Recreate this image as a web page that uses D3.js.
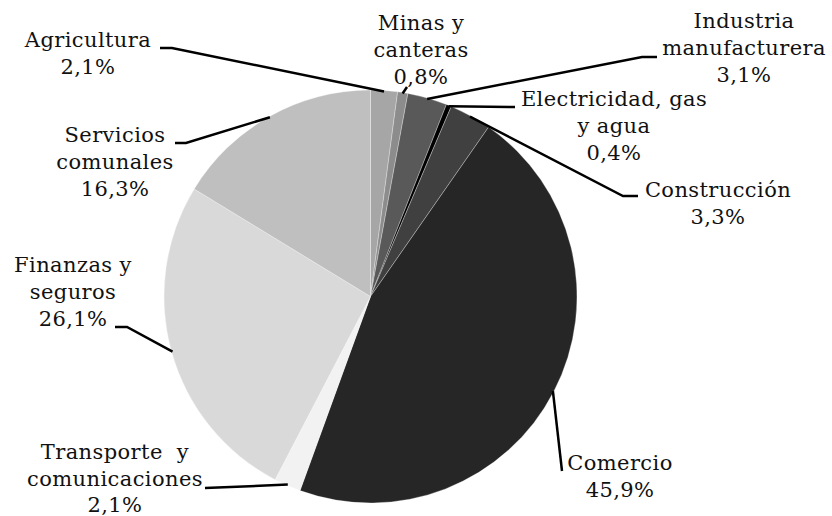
<!DOCTYPE html>
<html>
<head>
<meta charset="utf-8">
<script src="https://cdn.jsdelivr.net/npm/d3@7"></script>
<style>
  body { margin: 0; background: #fff; }
  text { font-family: "DejaVu Serif", serif; font-size: 21px; letter-spacing: 0.4px; fill: #111; white-space: pre; }
</style>
</head>
<body>
<div id="chart"></div>
<script>
const categories = ['Agricultura', 'Minas y\ncanteras', 'Industria\nmanufacturera', 'Electricidad, gas\ny agua',
  'Construcción', 'Comercio', 'Transporte  y\ncomunicaciones', 'Finanzas y\nseguros', 'Servicios\ncomunales'];
const values = [2.1, 0.8, 3.1, 0.4, 3.3, 45.9, 2.1, 26.1, 16.3];
const colors = ['#a6a6a6', '#8c8c8c', '#595959', '#000000', '#404040', '#262626', '#f2f2f2', '#d9d9d9', '#bfbfbf'];

// label placement (center x, first baseline) and leader elbow points, same order as categories
const labelPos = [
  { x: 88, y: 47, leader: [[160, 48], [172, 48]] },
  { x: 421, y: 30, leader: [[407, 87]] },
  { x: 744, y: 28, leader: [[657, 57], [642, 57]] },
  { x: 614, y: 106, leader: [[515, 107]] },
  { x: 718, y: 197, leader: [[638, 196], [623, 196]] },
  { x: 620, y: 470, leader: [[562, 471]] },
  { x: 115, y: 459, leader: [[205, 488]] },
  { x: 73, y: 272, leader: [[115, 327], [127, 327]] },
  { x: 115, y: 142, leader: [[175, 143], [186, 143]] }
];

const width = 832, height = 516;
const cx = 370.5, cy = 296.5, radius = 206.5, lineHeight = 27;

const fmt = v => d3.format('.1f')(v).replace('.', ',') + '%';

const svg = d3.select('#chart').append('svg')
  .attr('width', width)
  .attr('height', height);

const pie = d3.pie().sort(null).value(d => d.value);
const arc = d3.arc().innerRadius(0).outerRadius(radius);
const edgeArc = d3.arc().innerRadius(radius - 1).outerRadius(radius - 1);

const data = categories.map((c, i) => ({ name: c, value: values[i], color: colors[i], pos: labelPos[i] }));
const arcs = pie(data);

const g = svg.append('g').attr('transform', `translate(${cx},${cy})`);

g.selectAll('path.slice')
  .data(arcs)
  .enter().append('path')
  .attr('class', 'slice')
  .attr('d', arc)
  .attr('fill', d => d.data.color)
  .attr('stroke', '#fff')
  .attr('stroke-opacity', 0.5)
  .attr('stroke-width', 0.6);

// leader lines
const line = d3.line();
svg.selectAll('path.leader')
  .data(arcs)
  .enter().append('path')
  .attr('class', 'leader')
  .attr('d', d => {
    const c = edgeArc.centroid(d);
    return line(d.data.pos.leader.concat([[c[0] + cx, c[1] + cy]]));
  })
  .attr('fill', 'none')
  .attr('stroke', '#000')
  .attr('stroke-width', 2.5);

// labels
const labels = svg.selectAll('text.label')
  .data(arcs)
  .enter().append('text')
  .attr('class', 'label')
  .attr('text-anchor', 'middle');

labels.each(function(d) {
  const lines = d.data.name.split('\n').concat([fmt(d.data.value)]);
  const lh = d.data.name.startsWith('Transporte') ? 26.5 : lineHeight;
  d3.select(this).selectAll('tspan')
    .data(lines)
    .enter().append('tspan')
    .attr('x', d.data.pos.x)
    .attr('y', (l, i) => d.data.pos.y + i * lh)
    .text(l => l);
});
</script>
</body>
</html>
